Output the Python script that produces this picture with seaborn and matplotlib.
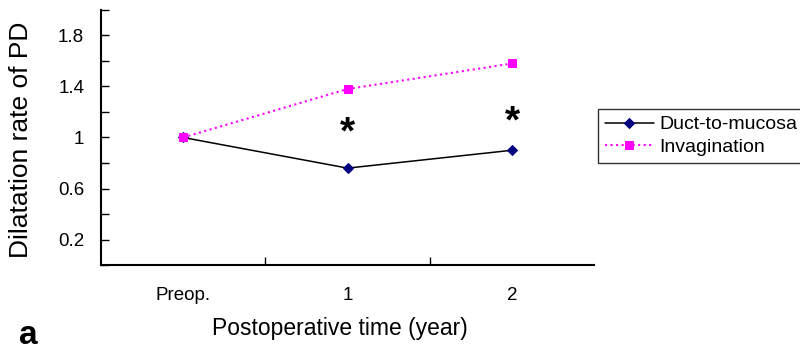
import matplotlib
matplotlib.use("Agg")
import matplotlib.pyplot as plt
import seaborn as sns
import pandas as pd

times = ["Preop.", "1", "2"]
duct_to_mucosa = [1.0, 0.76, 0.90]
invagination = [1.0, 1.38, 1.58]
y_ticks = [0.2, 0.6, 1.0, 1.4, 1.8]
y_tick_labels = ["0.2", "0.6", "1", "1.4", "1.8"]
star_heights = [1.03, 1.12]  # asterisks over years 1 and 2


def main():
    sns.set_style("white")
    plt.rcParams['font.family'] = ['Liberation Sans', 'DejaVu Sans']
    for k in ["text.color", "axes.labelcolor", "xtick.color", "ytick.color"]:
        plt.rcParams[k] = "black"

    df = pd.DataFrame({
        "time": times * 2,
        "rate": duct_to_mucosa + invagination,
        "group": ["Duct-to-mucosa"] * 3 + ["Invagination"] * 3,
    })

    fig = plt.figure(figsize=(8.0, 3.53), dpi=100)
    ax = fig.add_axes([0.126, 0.249, 0.617, 0.723])

    d1 = df[df["group"] == "Duct-to-mucosa"]
    d2 = df[df["group"] == "Invagination"]
    sns.lineplot(data=d1, x="time", y="rate", ax=ax, color="black", lw=1.1,
                 marker="D", markersize=5, markerfacecolor="#000080",
                 markeredgecolor="#000080", label="Duct-to-mucosa")
    sns.lineplot(data=d2, x="time", y="rate", ax=ax, color="#ff00ff", lw=1.5,
                 linestyle=":", marker="s", markersize=6, markerfacecolor="#ff00ff",
                 markeredgecolor="#ff00ff", label="Invagination")

    for i, h in enumerate(star_heights):
        ax.text(times[i + 1], h, "*", ha="center", va="center",
                fontsize=28, fontweight="bold", color="black")

    ax.set_xlim(-0.5, 2.5)
    ax.set_ylim(0, 2.0)
    ax.set_yticks([i * 0.2 for i in range(11)], minor=True)
    ax.set_yticks(y_ticks)
    ax.set_yticklabels(y_tick_labels, fontsize=13.5)
    ax.set_xticks([0, 1, 2])
    ax.set_xticklabels(times, fontsize=13.5)
    ax.set_xticks([0.5, 1.5], minor=True)
    ax.tick_params(axis="y", which="both", direction="in", length=6, width=1,
                   left=True, pad=12)
    ax.tick_params(axis="x", which="major", length=0, pad=16)
    ax.tick_params(axis="x", which="minor", direction="in", length=6, width=1,
                   bottom=True)

    for s in ["top", "right"]:
        ax.spines[s].set_visible(False)
    for s in ["left", "bottom"]:
        ax.spines[s].set_color("black")
        ax.spines[s].set_linewidth(1.5)

    ax.set_xlabel("Postoperative time (year)", fontsize=16.5)
    ax.set_ylabel("Dilatation rate of PD", fontsize=19)
    ax.xaxis.set_label_coords(0.485, -0.205)
    ax.yaxis.set_label_coords(-0.138, 0.49)

    leg = ax.legend(loc="upper left", bbox_to_anchor=(1.008, 0.612),
                    borderaxespad=0, fontsize=14, frameon=True, fancybox=False,
                    handlelength=2.5, handletextpad=0.3, borderpad=0.35,
                    labelspacing=0.25)
    leg.get_frame().set_edgecolor("black")
    leg.get_frame().set_linewidth(1.0)

    fig.text(0.024, 0.025, "a", fontsize=24, fontweight="bold")

    fig.savefig("out.png", dpi=100)


if __name__ == "__main__":
    main()
